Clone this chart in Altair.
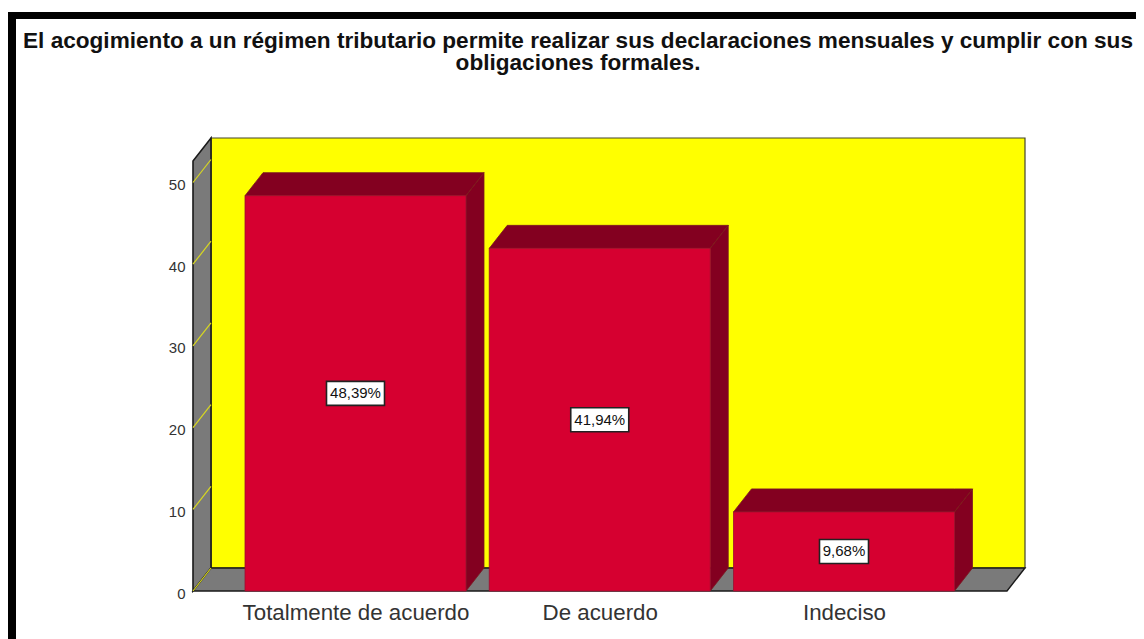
import altair as alt
import json
import pandas as pd

categories = ["Totalmente de acuerdo", "De acuerdo", "Indeciso"]
percents = [48.39, 41.94, 9.68]
value_labels = ["48,39%", "41,94%", "9,68%"]
y_ticks = [0, 10, 20, 30, 40, 50]
title_lines = [
    "El acogimiento a un régimen tributario permite realizar sus declaraciones mensuales y cumplir con sus",
    "obligaciones formales.",
]

PW, PH = 832, 453
PX_X = 244.25          # pixels per category step
PX_Y = 8.17            # pixels per percent
X_MIN = (193 - 355.5) / PX_X
X_MAX = (1025 - 355.5) / PX_X
Y_MAX = PH / PX_Y
DX = 18 / PX_X         # depth of the box, in scale units
DY = 23 / PX_Y
HALF = 110.5 / PX_X

x_scale = alt.Scale(domain=[X_MIN, X_MAX], nice=False, zero=False)
y_scale = alt.Scale(domain=[0, Y_MAX], nice=False, zero=False)
x_axis = alt.Axis(
    values=[0, 1, 2],
    labelExpr=json.dumps(categories) + "[datum.value]",
    domain=False,
    ticks=False,
    grid=False,
    title=None,
    labelFont="Liberation Sans",
    labelFontSize=22.3,
    labelColor="#333333",
    labelPadding=10,
    labelLimit=500,
    labelOverlap=False,
    labelFlush=False,
)
y_axis = alt.Axis(
    values=y_ticks,
    domain=False,
    ticks=False,
    grid=False,
    title=None,
    labelFont="Liberation Sans",
    labelFontSize=15,
    labelColor="#333333",
    labelPadding=8,
    labelOffset=2,
    labelOverlap=False,
    labelFlush=False,
)
X = alt.X("x:Q", scale=x_scale, axis=x_axis)
Y = alt.Y("y:Q", scale=y_scale, axis=y_axis, stack=False)


def parallelogram(face, x0, x1, base):
    """Flat face running back from the front edge x0..x1 at value base."""
    return [
        dict(face=face, x=x0, y=base, y2=base),
        dict(face=face, x=x0 + DX, y=base, y2=base + DY),
        dict(face=face, x=x1, y=base, y2=base + DY),
        dict(face=face, x=x1 + DX, y=base + DY, y2=base + DY),
    ]


tops, sides, fronts = [], [], []
for i, v in enumerate(percents):
    left, right = i - HALF, i + HALF
    tops += parallelogram(i, left, right, v)
    sides += [
        dict(face=i, x=right, y=0, y2=v),
        dict(face=i, x=right + DX, y=DY, y2=v + DY),
    ]
    fronts.append(dict(x=left, x2=right, y=0, y2=v))


def area(rows, fill, stroke, width=1.0):
    return (
        alt.Chart(pd.DataFrame(rows))
        .mark_area(fill=fill, stroke=stroke, strokeWidth=width, opacity=1, interpolate="linear")
        .encode(x=X, y=Y, y2="y2:Q", detail="face:N")
    )


back_wall = (
    alt.Chart(pd.DataFrame([dict(x=X_MIN + DX, x2=X_MAX, y=DY, y2=Y_MAX)]))
    .mark_rect(fill="#FFFF00", stroke="#45452A", strokeWidth=1.2)
    .encode(x=X, x2="x2:Q", y=Y, y2="y2:Q")
)
left_wall = area(
    [
        dict(face=0, x=X_MIN, y=0, y2=Y_MAX - DY),
        dict(face=0, x=X_MIN + DX, y=DY, y2=Y_MAX),
    ],
    "#7A7A7A",
    "#1A1A1A",
    1.6,
)
floor = area(parallelogram(0, X_MIN, X_MAX - DX, 0), "#7A7A7A", "#1A1A1A", 1.4)
floor_back = (
    alt.Chart(pd.DataFrame([dict(x=X_MIN + DX, x2=X_MAX, y=DY)]))
    .mark_rule(color="#A8A800", strokeWidth=1.5)
    .encode(x=X, x2="x2:Q", y=Y)
)
grid = (
    alt.Chart(pd.DataFrame([dict(x=X_MIN, x2=X_MIN + DX, y=t, y2=t + DY) for t in y_ticks]))
    .mark_rule(color="#D8D820", strokeWidth=1.2)
    .encode(x=X, x2="x2:Q", y=Y, y2="y2:Q")
)

bar_tops = area(tops, "#830020", "#7A1A20", 0.8)
bar_sides = area(sides, "#830020", "#7A1A20", 0.8)
bar_fronts = (
    alt.Chart(pd.DataFrame(fronts))
    .mark_rect(fill="#D60030", stroke="#9A1030", strokeWidth=0.8)
    .encode(x=X, x2="x2:Q", y=Y, y2="y2:Q")
)

label_rows = [
    dict(
        x=i,
        y=v / 2,
        label=lab,
        x0=i - (len(lab) * 9 + 4) / 2 / PX_X,
        x1=i + (len(lab) * 9 + 4) / 2 / PX_X,
        y0=v / 2 - 12 / PX_Y,
        y1=v / 2 + 12 / PX_Y,
    )
    for i, (v, lab) in enumerate(zip(percents, value_labels))
]
label_df = pd.DataFrame(label_rows)
boxes = (
    alt.Chart(label_df)
    .mark_rect(fill="white", stroke="#222222", strokeWidth=1.6)
    .encode(x=alt.X("x0:Q", scale=x_scale, axis=x_axis), x2="x1:Q",
            y=alt.Y("y0:Q", scale=y_scale, axis=y_axis), y2="y1:Q")
)
texts = (
    alt.Chart(label_df)
    .mark_text(font="Liberation Sans", fontSize=15, color="#111111", baseline="middle", align="center")
    .encode(x=X, y=Y, text="label:N")
)

marker = pd.DataFrame({"k": [0]})
frame_top = (
    alt.Chart(marker)
    .mark_rect(color="black")
    .encode(x=alt.value(-185), x2=alt.value(943), y=alt.value(-126), y2=alt.value(-119))
)
frame_left = (
    alt.Chart(marker)
    .mark_rect(color="black")
    .encode(x=alt.value(-185), x2=alt.value(-177), y=alt.value(-126), y2=alt.value(501))
)
title_layers = [
    alt.Chart(pd.DataFrame({"t": [line]}))
    .mark_text(font="Liberation Sans", fontSize=22.6, fontWeight="bold", color="#111111",
               align="center", baseline="middle")
    .encode(x=alt.value(385), y=alt.value(-97.5 + 22.5 * n), text="t:N")
    for n, line in enumerate(title_lines)
]

chart = alt.layer(
    frame_top, frame_left, *title_layers, back_wall, floor_back, left_wall, floor, grid,
    bar_tops, bar_sides, bar_fronts, boxes, texts,
).properties(
    width=PW,
    height=PH,
    padding={"left": 185, "top": 130, "right": 111, "bottom": 48},
    autosize=alt.AutoSizeParams(type="none"),
    background="white",
).configure_view(stroke=None)

chart.save("out.html", embed_options={"renderer": "svg", "actions": False})
